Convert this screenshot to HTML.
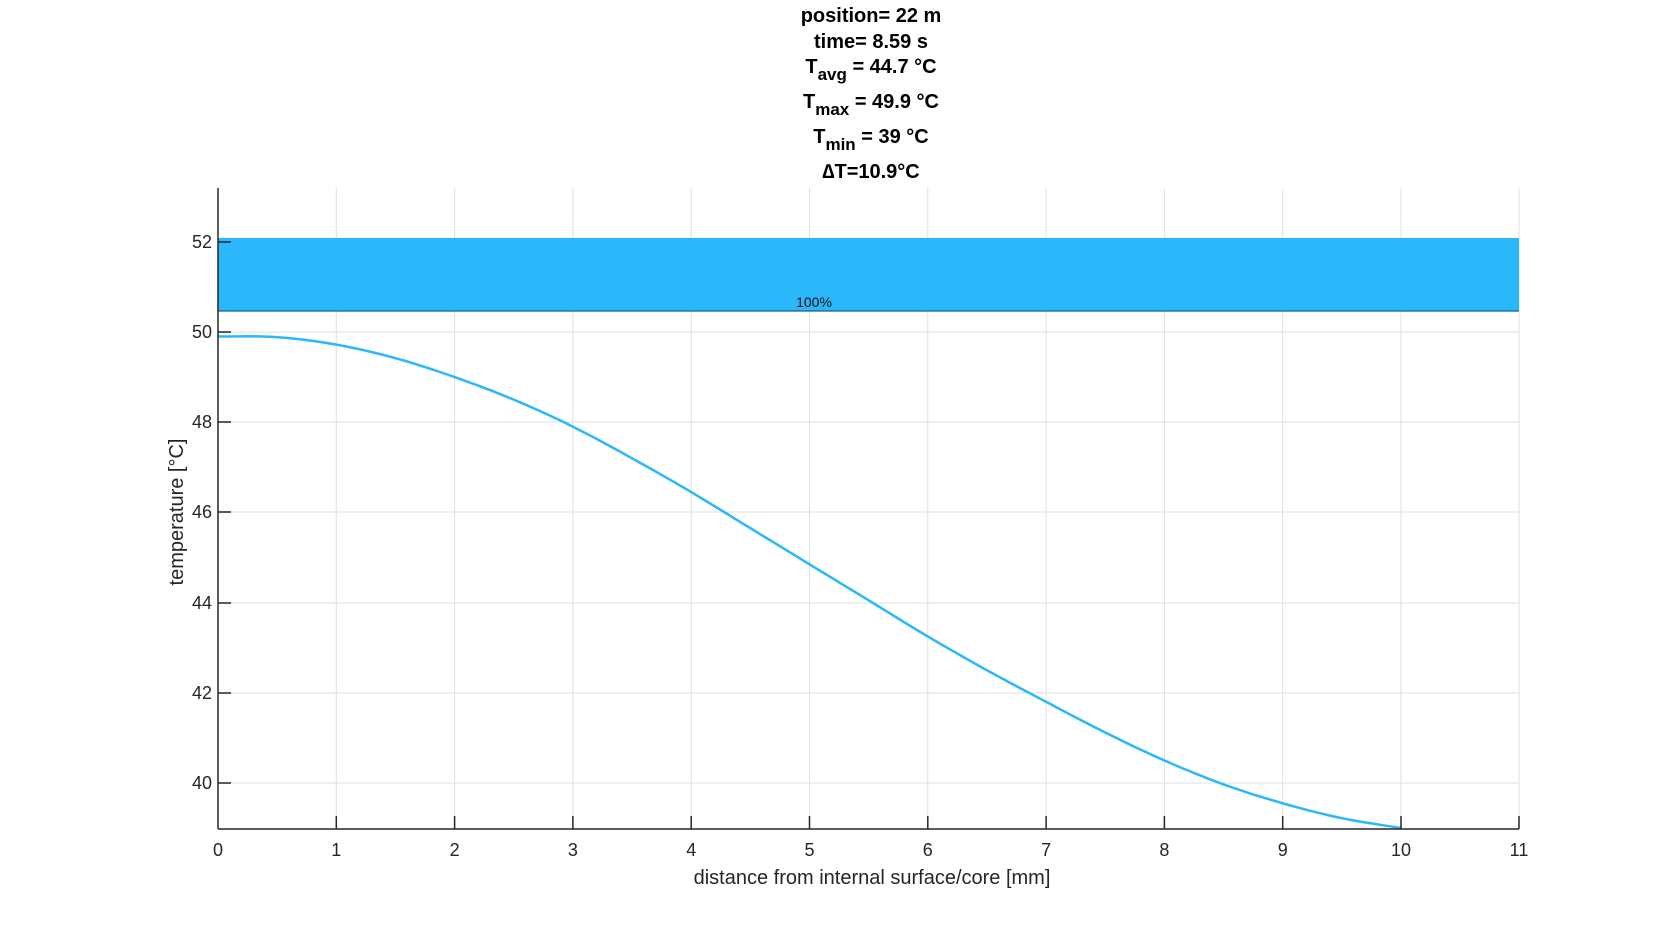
<!DOCTYPE html>
<html><head><meta charset="utf-8"><style>
html,body{margin:0;padding:0;background:#fff;}
svg{display:block;font-family:"Liberation Sans",Arial,sans-serif;}
</style></head><body>
<svg width="1680" height="933" viewBox="0 0 1680 933">
<rect width="1680" height="933" fill="#fff"/>
<g stroke="#dfdfdf" stroke-width="1">
<line x1="336.3" y1="188" x2="336.3" y2="829"/>
<line x1="454.6" y1="188" x2="454.6" y2="829"/>
<line x1="572.9" y1="188" x2="572.9" y2="829"/>
<line x1="691.2" y1="188" x2="691.2" y2="829"/>
<line x1="809.5" y1="188" x2="809.5" y2="829"/>
<line x1="927.8" y1="188" x2="927.8" y2="829"/>
<line x1="1046.1" y1="188" x2="1046.1" y2="829"/>
<line x1="1164.4" y1="188" x2="1164.4" y2="829"/>
<line x1="1282.7" y1="188" x2="1282.7" y2="829"/>
<line x1="1401" y1="188" x2="1401" y2="829"/>
<line x1="1519" y1="188" x2="1519" y2="829"/>
<line x1="218" y1="783" x2="1519" y2="783"/>
<line x1="218" y1="693" x2="1519" y2="693"/>
<line x1="218" y1="603" x2="1519" y2="603"/>
<line x1="218" y1="512" x2="1519" y2="512"/>
<line x1="218" y1="422" x2="1519" y2="422"/>
<line x1="218" y1="332" x2="1519" y2="332"/>
<line x1="218" y1="242" x2="1519" y2="242"/>
</g>
<rect x="218" y="238" width="1301" height="73" fill="#2bb7fc"/>
<line x1="218" y1="311" x2="1519" y2="311" stroke="#1a5f80" stroke-width="1.2"/>
<text x="814" y="307" font-size="14" text-anchor="middle" fill="#111">100%</text>
<path id="curve" d="" fill="none" stroke="#2bb7fc" stroke-width="2.5" stroke-linejoin="round"/>
<g stroke="#262626" stroke-width="1.5">
<line x1="218" y1="188" x2="218" y2="829"/>
<line x1="218" y1="829" x2="1519" y2="829"/>
<line x1="218" y1="783" x2="231" y2="783"/>
<line x1="218" y1="693" x2="231" y2="693"/>
<line x1="218" y1="603" x2="231" y2="603"/>
<line x1="218" y1="512" x2="231" y2="512"/>
<line x1="218" y1="422" x2="231" y2="422"/>
<line x1="218" y1="332" x2="231" y2="332"/>
<line x1="218" y1="242" x2="231" y2="242"/>
<line x1="336.3" y1="829" x2="336.3" y2="816"/>
<line x1="454.6" y1="829" x2="454.6" y2="816"/>
<line x1="572.9" y1="829" x2="572.9" y2="816"/>
<line x1="691.2" y1="829" x2="691.2" y2="816"/>
<line x1="809.5" y1="829" x2="809.5" y2="816"/>
<line x1="927.8" y1="829" x2="927.8" y2="816"/>
<line x1="1046.1" y1="829" x2="1046.1" y2="816"/>
<line x1="1164.4" y1="829" x2="1164.4" y2="816"/>
<line x1="1282.7" y1="829" x2="1282.7" y2="816"/>
<line x1="1401" y1="829" x2="1401" y2="816"/>
<line x1="1519" y1="829" x2="1519" y2="816"/>
</g>
<g font-size="18" fill="#262626" text-anchor="end">
<text x="212" y="789">40</text>
<text x="212" y="699">42</text>
<text x="212" y="609">44</text>
<text x="212" y="518">46</text>
<text x="212" y="428">48</text>
<text x="212" y="338">50</text>
<text x="212" y="248">52</text>
</g>
<g font-size="18" fill="#262626" text-anchor="middle">
<text x="218" y="856">0</text>
<text x="336.3" y="856">1</text>
<text x="454.6" y="856">2</text>
<text x="572.9" y="856">3</text>
<text x="691.2" y="856">4</text>
<text x="809.5" y="856">5</text>
<text x="927.8" y="856">6</text>
<text x="1046.1" y="856">7</text>
<text x="1164.4" y="856">8</text>
<text x="1282.7" y="856">9</text>
<text x="1401" y="856">10</text>
<text x="1519" y="856">11</text>
<text x="872" y="884" font-size="20">distance from internal surface/core [mm]</text>
<text transform="translate(183,512) rotate(-90)" font-size="20">temperature [°C]</text>
</g>
<g font-size="20" font-weight="bold" fill="#000" text-anchor="middle">
<text x="871" y="22">position= 22 m</text>
<text x="871" y="48">time= 8.59 s</text>
<text x="871" y="73">T<tspan font-size="17" dy="7">avg</tspan><tspan dy="-7"> = 44.7 °C</tspan></text>
<text x="871" y="108">T<tspan font-size="17" dy="7">max</tspan><tspan dy="-7"> = 49.9 °C</tspan></text>
<text x="871" y="143">T<tspan font-size="17" dy="7">min</tspan><tspan dy="-7"> = 39 °C</tspan></text>
<text x="871" y="178">∆T=10.9°C</text>
</g>
</svg>
<script>
var v=[49.9,49.885,49.72,49.42,49.0,48.5,47.9,47.2,46.45,45.65,44.85,44.05,43.25,42.5,41.8,41.12,40.5,39.97,39.55,39.22,39.0];
function X(x){return 218+118.3*x;}function Y(t){return 332+(50-t)*45.1;}
var d="",n=v.length;
for(var i=0;i<n-1;i++){
 var m0=(i==0?0:(v[i+1]-v[i-1])/2), m1=(i+1==n-1?(v[n-1]-v[n-2]):(v[i+2]-v[i])/2);
 for(var k=0;k<=10;k++){
  if(i>0&&k==0)continue;
  var s=k/10,h00=2*s*s*s-3*s*s+1,h10=s*s*s-2*s*s+s,h01=-2*s*s*s+3*s*s,h11=s*s*s-s*s;
  var t=h00*v[i]+h10*m0+h01*v[i+1]+h11*m1;
  var x=(i+s)*0.5;
  d+=(d?"L":"M")+X(x).toFixed(1)+","+Y(t).toFixed(1);
 }
}
document.getElementById("curve").setAttribute("d",d);
</script>
</body></html>
